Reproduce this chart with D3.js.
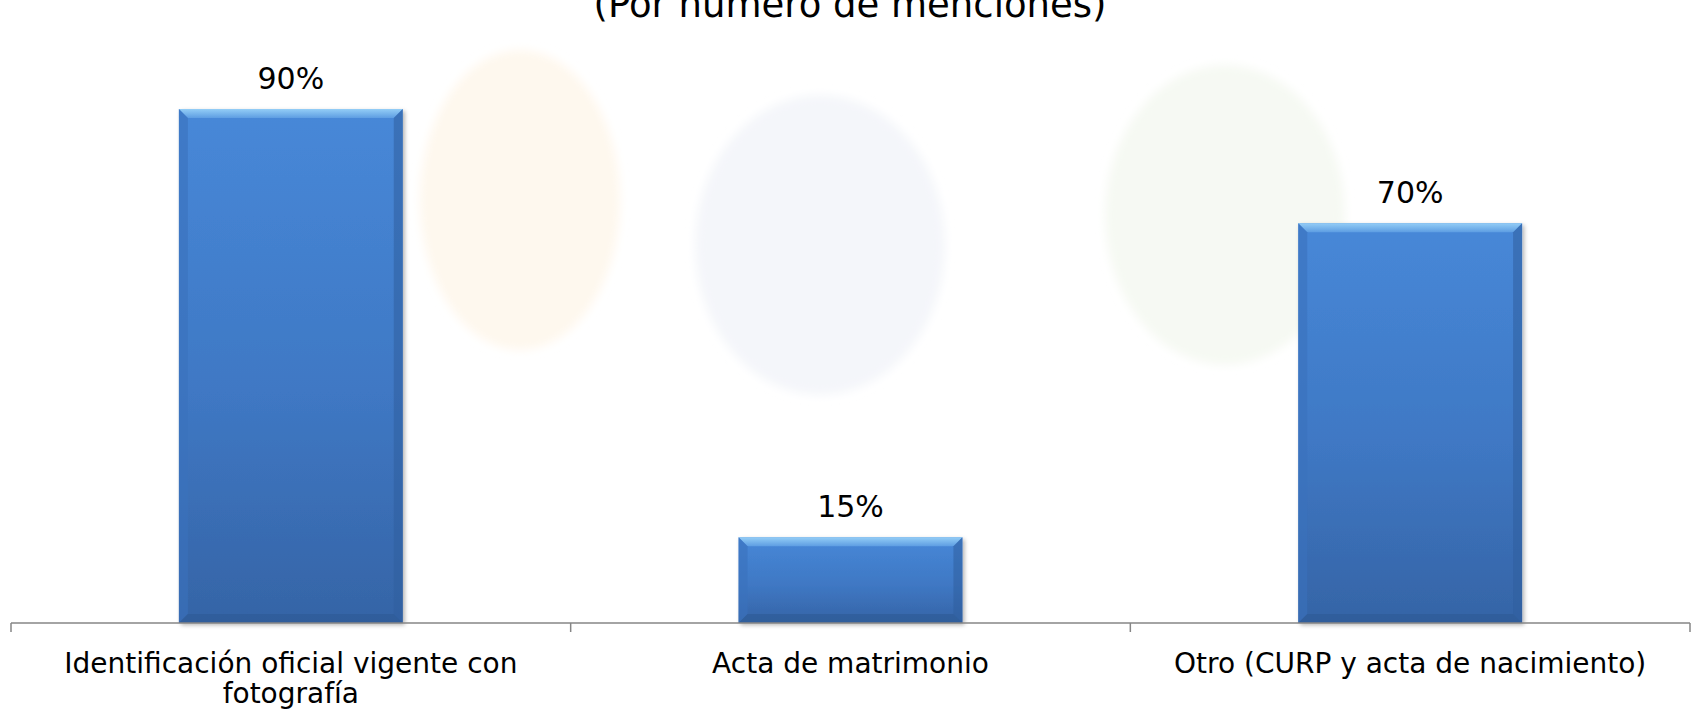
<!DOCTYPE html>
<html>
<head>
<meta charset="utf-8">
<script src="https://cdn.jsdelivr.net/npm/d3@7"></script>
<style>
  html, body { margin: 0; padding: 0; background: #fff; }
  svg { display: block; }
</style>
</head>
<body>
<div id="chart"></div>
<script>
var title = '(Por número de menciones)'
var categories = ['Identificación oficial vigente con fotografía', 'Acta de matrimonio', 'Otro (CURP y acta de nacimiento)']
var categoryLines = [['Identificación oficial vigente con', 'fotografía'], ['Acta de matrimonio'], ['Otro (CURP y acta de nacimiento)']]
var values = [90, 15, 70]

var w = 1692
var h = 711
var font = '"DejaVu Sans", Verdana, sans-serif'

var svg = d3.select('#chart').append('svg')
  .attr('width', w)
  .attr('height', h)

var defs = svg.append('defs')

var body = defs.append('linearGradient').attr('id', 'barBody').attr('x1', 0).attr('y1', 0).attr('x2', 0).attr('y2', 1)
body.append('stop').attr('offset', '0%').attr('stop-color', '#4788d8')
body.append('stop').attr('offset', '55%').attr('stop-color', '#3f78c4')
body.append('stop').attr('offset', '100%').attr('stop-color', '#3564a6')

var topBevel = defs.append('linearGradient').attr('id', 'topBevel').attr('x1', 0).attr('y1', 0).attr('x2', 0).attr('y2', 1)
topBevel.append('stop').attr('offset', '0%').attr('stop-color', '#93cdf6')
topBevel.append('stop').attr('offset', '100%').attr('stop-color', '#5d9de2')

var shadow = defs.append('filter').attr('id', 'shadow').attr('x', '-10%').attr('y', '-10%').attr('width', '130%').attr('height', '130%')
shadow.append('feDropShadow').attr('dx', 2).attr('dy', 2).attr('stdDeviation', 2).attr('flood-color', '#000').attr('flood-opacity', 0.3)

var blur = defs.append('filter').attr('id', 'soft')
blur.append('feGaussianBlur').attr('stdDeviation', 5)

// faint logo watermark behind the chart
var wm = svg.append('g').attr('filter', 'url(#soft)')
wm.append('ellipse').attr('cx', 520).attr('cy', 200).attr('rx', 100).attr('ry', 150).attr('fill', '#fef8ee')
wm.append('ellipse').attr('cx', 820).attr('cy', 245).attr('rx', 125).attr('ry', 150).attr('fill', '#f4f6fa')
wm.append('ellipse').attr('cx', 1225).attr('cy', 215).attr('rx', 120).attr('ry', 150).attr('fill', '#f6f9f3')

var x = d3.scaleBand().domain(categories).range([11, 1690]).padding(0)
var y = d3.scaleLinear().domain([0, 100]).range([623, 52])
var barW = x.bandwidth() * 0.4
var bev = 9

// title sits partly above the top edge, as in the source slide
svg.append('text')
  .attr('x', 850)
  .attr('y', 17)
  .attr('text-anchor', 'middle')
  .style('font-family', font)
  .style('font-size', '37px')
  .attr('fill', '#000')
  .text(title)

var bars = svg.append('g').selectAll('g.bar')
  .data(values)
  .join('g')
  .attr('class', 'bar')
  .attr('transform', function (d, i) { return 'translate(' + (x(categories[i]) + (x.bandwidth() - barW) / 2) + ',' + y(d) + ')' })

bars.append('rect')
  .attr('width', barW)
  .attr('height', function (d) { return y(0) - y(d) })
  .attr('fill', 'url(#barBody)')
  .attr('filter', 'url(#shadow)')

// bevel edges
bars.append('path')
  .attr('d', function (d) { return ['M0,0', 'L' + barW + ',0', 'L' + (barW - bev) + ',' + bev, 'L' + bev + ',' + bev, 'Z'].join(' ') })
  .attr('fill', 'url(#topBevel)')
bars.append('path')
  .attr('d', function (d) { var bh = y(0) - y(d); return ['M0,0', 'L' + bev + ',' + bev, 'L' + bev + ',' + (bh - bev), 'L0,' + bh, 'Z'].join(' ') })
  .attr('fill', '#3a72bd').attr('opacity', 0.6)
bars.append('path')
  .attr('d', function (d) { var bh = y(0) - y(d); return ['M' + barW + ',0', 'L' + (barW - bev) + ',' + bev, 'L' + (barW - bev) + ',' + (bh - bev), 'L' + barW + ',' + bh, 'Z'].join(' ') })
  .attr('fill', '#2f5f9e').attr('opacity', 0.55)
bars.append('path')
  .attr('d', function (d) { var bh = y(0) - y(d); return ['M0,' + bh, 'L' + bev + ',' + (bh - bev), 'L' + (barW - bev) + ',' + (bh - bev), 'L' + barW + ',' + bh, 'Z'].join(' ') })
  .attr('fill', '#2d5a95').attr('opacity', 0.6)

// value labels
svg.append('g').selectAll('text')
  .data(values)
  .join('text')
  .attr('x', function (d, i) { return x(categories[i]) + x.bandwidth() / 2 })
  .attr('y', function (d) { return y(d) - 20 })
  .attr('text-anchor', 'middle')
  .style('font-family', font)
  .style('font-size', '30px')
  .attr('fill', '#000')
  .text(function (d) { return d + '%' })

// category axis
var axis = svg.append('g').attr('transform', 'translate(0,' + y(0) + ')')
axis.append('line').attr('x1', 11).attr('x2', 1690).attr('stroke', '#868686').attr('stroke-width', 1.5)
var bounds = categories.map(function (c) { return x(c) }).concat([x.range()[1]])
axis.selectAll('line.tick')
  .data(bounds)
  .join('line')
  .attr('class', 'tick')
  .attr('x1', function (d) { return d }).attr('x2', function (d) { return d })
  .attr('y1', 0).attr('y2', 9)
  .attr('stroke', '#868686').attr('stroke-width', 1.5)

var catLabels = svg.append('g').selectAll('text')
  .data(categoryLines)
  .join('text')
  .attr('x', function (d, i) { return x(categories[i]) + x.bandwidth() / 2 })
  .attr('y', 673)
  .attr('text-anchor', 'middle')
  .style('font-family', font)
  .style('font-size', '28px')
  .attr('fill', '#000')

catLabels.selectAll('tspan')
  .data(function (d) { return d })
  .join('tspan')
  .attr('x', function () { return d3.select(this.parentNode).attr('x') })
  .attr('dy', function (d, i) { return i === 0 ? 0 : 30 })
  .text(function (d) { return d })
</script>
</body>
</html>
